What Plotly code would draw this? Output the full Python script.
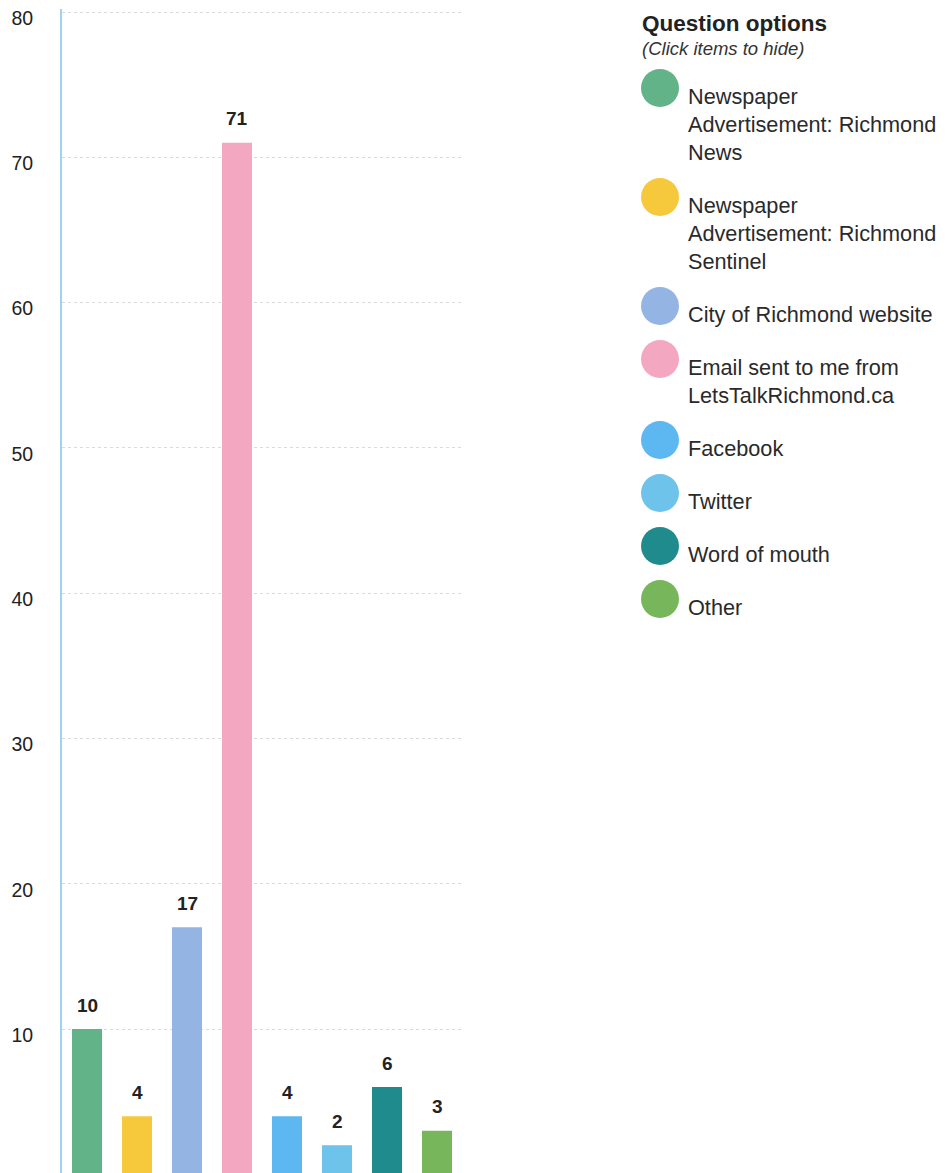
import plotly.graph_objects as go

# ---- data ----
categories = [
    "Newspaper Advertisement: Richmond News",
    "Newspaper Advertisement: Richmond Sentinel",
    "City of Richmond website",
    "Email sent to me from LetsTalkRichmond.ca",
    "Facebook",
    "Twitter",
    "Word of mouth",
    "Other",
]
legend_labels = [
    "Newspaper<br>Advertisement: Richmond<br>News",
    "Newspaper<br>Advertisement: Richmond<br>Sentinel",
    "City of Richmond website",
    "Email sent to me from<br>LetsTalkRichmond.ca",
    "Facebook",
    "Twitter",
    "Word of mouth",
    "Other",
]
values = [10, 4, 17, 71, 4, 2, 6, 3]
colors = ["#62b387", "#f6c93c", "#94b4e4", "#f4a7c1",
          "#5db7f0", "#6ec3ea", "#1f8b8d", "#78b65b"]
y_ticks = [10, 20, 30, 40, 50, 60, 70, 80]

# ---- geometry (page pixels; the page body has an 8px margin) ----
OFF = 8
W, H = 952 - OFF, 1173 - OFF
PLOT_LEFT, PLOT_RIGHT, PLOT_TOP = 62, 462, 9
L = PLOT_LEFT - OFF
R = W - (PLOT_RIGHT - OFF)
T = PLOT_TOP - OFF
B = 0
plot_w = W - L - R
plot_h = H - T - B
FONT = "Liberation Sans, Arial, Helvetica, sans-serif"


def px_x(px):
    return (px - OFF - L) / plot_w


def px_y(py):
    return (H - B - (py - OFF)) / plot_h


fig = go.Figure()
fig.add_trace(go.Bar(
    x=categories, y=values,
    marker=dict(color=colors, line=dict(width=0)),
    showlegend=False, hoverinfo="x+y",
))

annotations = []
for c, v in zip(categories, values):
    annotations.append(dict(
        x=c, y=v, xref="x", yref="y", text=str(v), showarrow=False,
        yshift=24, yanchor="middle",
        font=dict(family=FONT, size=19, color="#222222", weight="bold"),
    ))

# legend (custom, big circles)
annotations.append(dict(
    x=px_x(640), y=px_y(24), xref="paper", yref="paper", xanchor="left",
    yanchor="middle", text="<b>Question options</b>", showarrow=False,
    font=dict(family=FONT, size=22.5, color="#222222"),
))
annotations.append(dict(
    x=px_x(640), y=px_y(49), xref="paper", yref="paper", xanchor="left",
    yanchor="middle", text="<i>(Click items to hide)</i>", showarrow=False,
    font=dict(family=FONT, size=18.5, color="#333333"),
))

shapes = []
cy = 88
r = 19
for lab, col in zip(legend_labels, colors):
    shapes.append(dict(
        type="circle", xref="paper", yref="paper",
        x0=px_x(660 - r), x1=px_x(660 + r),
        y0=px_y(cy + r), y1=px_y(cy - r),
        fillcolor=col, line=dict(width=0),
    ))
    annotations.append(dict(
        x=px_x(686), y=px_y(cy - 6), xref="paper", yref="paper",
        xanchor="left", yanchor="top", align="left", text=lab,
        showarrow=False,
        font=dict(family=FONT, size=21.7, color="#2a2a2a"),
    ))
    nlines = lab.count("<br>") + 1
    cy += 53 + 28 * (nlines - 1)

fig.update_layout(
    width=W, height=H,
    margin=dict(l=L, r=R, t=T, b=B, pad=0),
    paper_bgcolor="white", plot_bgcolor="white",
    bargap=0.4,
    showlegend=False,
    xaxis=dict(showticklabels=False, showgrid=False, zeroline=False,
               showline=False, ticks="", range=[-0.5, 7.5]),
    yaxis=dict(range=[0.089, 80.207], tickvals=y_ticks, autorange=False,
               showgrid=True, gridcolor="#dadada", griddash="dot",
               gridwidth=1, zeroline=False,
               showline=True, linecolor="#9fd3ef", linewidth=2,
               ticks="", ticklabelstandoff=23, ticklabelshift=6,
               ticklabeloverflow="allow",
               tickfont=dict(family=FONT, size=19.5, color="#222222")),
    annotations=annotations,
    shapes=shapes,
)

fig.write_html("out.html")
